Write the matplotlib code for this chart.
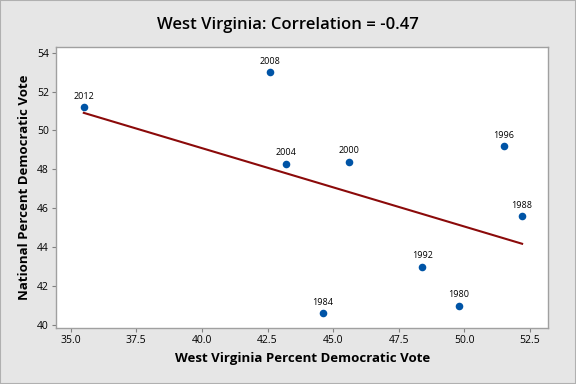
import numpy as np
import matplotlib
matplotlib.use("Agg")
import matplotlib.pyplot as plt

years = ["1980", "1984", "1988", "1992", "1996", "2000", "2004", "2008", "2012"]
wv_vote = [49.8, 44.6, 52.2, 48.4, 51.5, 45.6, 43.2, 42.6, 35.5]
nat_vote = [41.0, 40.6, 45.6, 43.0, 49.2, 48.4, 48.3, 53.0, 51.2]
xticks = [35.0, 37.5, 40.0, 42.5, 45.0, 47.5, 50.0, 52.5]
yticks = [40, 42, 44, 46, 48, 50, 52, 54]
title = "West Virginia: Correlation = -0.47"

plt.rcParams['font.family'] = ['Open Sans', 'DejaVu Sans']

fig = plt.figure(figsize=(5.76, 3.84), dpi=100, facecolor='#e6e6e6')
ax = fig.add_axes([0.0972, 0.1451, 0.952 - 0.0972, 0.8776 - 0.1451])
ax.set_facecolor('white')

x = np.array(wv_vote)
y = np.array(nat_vote)
m, b = np.polyfit(x, y, 1)
xs = np.array([x.min(), x.max()])
ax.plot(xs, m * xs + b, color='#8b0a0a', lw=1.5, zorder=2)
ax.scatter(x, y, s=30, color='#0054a6', zorder=3, linewidths=0)
for xi, yi, lab in zip(x, y, years):
    ax.annotate(lab, (xi, yi), xytext=(0, 4.5), textcoords='offset points',
                ha='center', va='bottom', fontsize=6.5, color='black')

ax.set_xlim(34.44, 53.2)
ax.set_ylim(39.83, 54.29)
ax.set_xticks(xticks)
ax.set_xticklabels([f"{t:.1f}" for t in xticks])
ax.set_yticks(yticks)
ax.tick_params(labelsize=7.5, color='#808080', length=3, width=0.8, pad=2)
for s in ax.spines.values():
    s.set_color('#a0a0a0')
    s.set_linewidth(1.0)

ax.set_xlabel("West Virginia Percent Democratic Vote", fontsize=9.5, fontweight='bold', labelpad=4)
ax.set_ylabel("National Percent Democratic Vote", fontsize=9.5, fontweight='bold', labelpad=4)
fig.text(0.5, 0.935, title, ha='center', va='center', fontsize=12, fontweight='semibold')

fig.patches.append(plt.Rectangle((0, 0), 1, 1, transform=fig.transFigure,
                                 fill=False, edgecolor='#b0b0b0', lw=1.5))
fig.savefig("out.png", dpi=100, facecolor=fig.get_facecolor())
